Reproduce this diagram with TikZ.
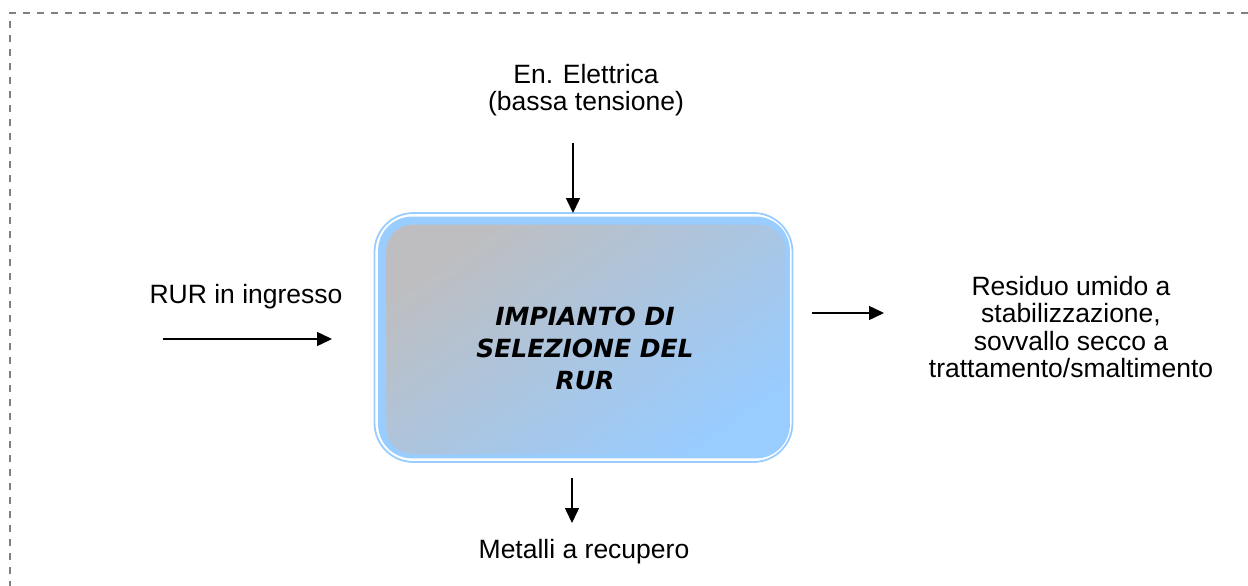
\documentclass[tikz,border=0pt]{standalone}
\usepackage{fontspec}
\setmainfont{Liberation Sans}
\newfontfamily\boxfont{DejaVu Sans}
\usetikzlibrary{arrows.meta}
\definecolor{lblue}{RGB}{153,204,255}
\definecolor{lgray}{RGB}{190,190,192}
\definecolor{dashgray}{RGB}{128,128,128}
\begin{document}
\begin{tikzpicture}[x=1pt,y=-1pt,
  lbl/.style={font=\fontsize{26.5}{27.3}\selectfont, align=center, inner sep=0pt},
  title/.style={font=\boxfont\bfseries\itshape\fontsize{25}{32}\selectfont, align=center, inner sep=0pt},
  flow/.style={line width=1.5pt, -{Triangle[length=15pt,width=14pt]}},
  plantbox/.style={draw=lblue, line width=1.8pt, rounded corners=39pt, minimum width=418pt, minimum height=249pt, inner sep=0pt},
]
\useasboundingbox (0,0) rectangle (1248,586);
% dashed frame
\draw[dashgray, line width=2pt, dash pattern=on 7pt off 7pt] (1248,13) -- (10,13) -- (10,586);
% central box
\node[plantbox] (box) at (583.5,337.5) {};
\fill[lblue, rounded corners=34pt] ([shift={(4.5,4.5)}]box.north west) rectangle ([shift={(-3.5,-4.5)}]box.south east);
\shade[top color=lgray, bottom color=lblue, shading angle=35, rounded corners=27pt] ([shift={(12.5,12.5)}]box.north west) rectangle ([shift={(-7.5,-8.5)}]box.south east);
\node[title] (ttl) at (585,348) {IMPIANTO DI\\SELEZIONE DEL\\RUR};
% labels
\node[lbl] (en) at (586,90) {En. Elettrica\\(bassa tensione)};
\node[lbl, anchor=base] (rur) at (246,303) {RUR in ingresso};
\node[lbl] (res) at (1071,327) {Residuo umido a\\stabilizzazione,\\sovvallo secco a\\trattamento/smaltimento};
\node[lbl, anchor=base] (met) at (584,558) {Metalli a recupero};
% arrow ends
\coordinate (topS) at (573,143);
\coordinate (topE) at (573,213);
\coordinate (inS) at (163,339);
\coordinate (inE) at (332,339);
\coordinate (outS) at (812,313);
\coordinate (outE) at (884,313);
\coordinate (botS) at (572,478);
\coordinate (botE) at (572,523);
\draw[flow] (topS) -- (topE);
\draw[flow] (inS) -- (inE);
\draw[flow] (outS) -- (outE);
\draw[flow] (botS) -- (botE);
\end{tikzpicture}
\end{document}
